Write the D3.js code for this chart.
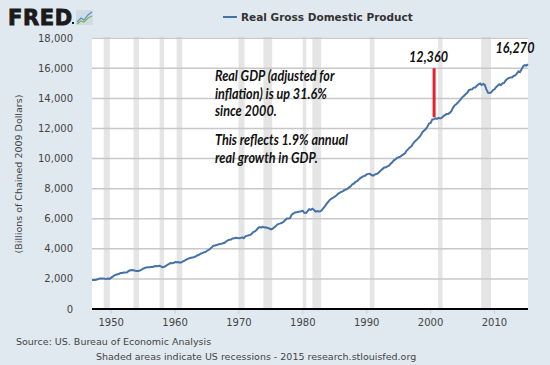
<!DOCTYPE html>
<html><head><meta charset="utf-8">
<script src="https://cdn.jsdelivr.net/npm/d3@7"></script>
<style>html,body{margin:0;padding:0;background:#e1e9f0;}svg{display:block;}</style>
</head><body>
<script>
// ---- Data ----
const startYear = 1947; // first quarter 1947Q1, quarterly observations
const gdp = [
1934.5,1932.3,1930.3,1960.7, 1989.5,2021.9,2033.2,2035.3, 2007.5,2000.8,2022.8,2004.7,
2084.6,2147.6,2230.4,2273.4, 2304.5,2344.5,2392.8,2398.1, 2423.5,2428.5,2446.1,2526.4,
2573.4,2593.5,2578.9,2539.8, 2528.0,2530.7,2559.4,2609.3, 2683.8,2727.5,2764.1,2780.8,
2770.0,2792.9,2790.6,2836.2, 2854.5,2848.2,2875.9,2846.4, 2772.7,2790.9,2855.5,2922.3,
2976.6,3049.0,3043.1,3055.1, 3123.2,3111.3,3119.1,3081.3, 3102.3,3159.9,3212.6,3277.7,
3336.8,3372.7,3404.8,3418.0, 3456.1,3501.1,3569.5,3595.0, 3672.7,3716.4,3766.9,3780.2,
3873.5,3926.4,4006.2,4100.6, 4201.9,4219.1,4249.2,4285.6, 4324.9,4328.7,4366.1,4401.2,
4490.6,4566.4,4599.3,4619.8, 4691.6,4706.7,4736.1,4715.5, 4707.1,4715.4,4757.2,4708.3,
4834.3,4861.9,4900.0,4914.3, 5002.4,5118.3,5165.4,5251.2, 5380.5,5441.5,5411.9,5462.4,
5417.0,5431.3,5378.7,5357.2, 5292.4,5333.2,5421.4,5494.4, 5618.5,5661.0,5689.8,5732.5,
5799.2,5913.0,6017.6,6018.2, 6039.2,6274.0,6335.3,6420.3, 6433.0,6440.8,6487.1,6503.9,
6524.9,6392.6,6382.9,6501.2, 6635.7,6587.3,6662.9,6585.1, 6475.0,6510.2,6486.8,6493.1,
6578.2,6728.3,6860.0,7001.5, 7140.6,7266.0,7337.5,7396.0, 7469.5,7537.9,7655.2,7712.6,
7784.1,7819.8,7898.6,7939.5, 7995.0,8084.7,8158.0,8292.7, 8339.3,8449.5,8498.3,8610.9,
8697.7,8766.1,8831.5,8850.2, 8947.1,8981.7,8983.9,8907.4, 8865.6,8934.4,8977.3,9016.4,
9123.0,9223.5,9313.2,9406.5, 9424.1,9480.1,9526.3,9653.5, 9748.2,9881.4,9939.7,10052.5,
10086.9,10122.1,10208.8,10281.2, 10348.7,10529.4,10626.8,10739.1, 10820.9,10984.2,11124.0,11210.3,
11321.2,11431.0,11580.6,11770.7, 11864.7,11962.5,12113.1,12323.3, 12359.1,12592.5,12607.7,12679.3,
12643.3,12710.3,12670.1,12705.3, 12822.3,12893.0,12955.8,12964.0, 13031.2,13152.1,13372.4,13528.7,
13606.5,13706.2,13830.8,13950.4, 14099.1,14172.7,14291.8,14373.4, 14546.1,14589.6,14602.6,14716.9,
14726.0,14838.7,14938.5,14991.8, 14889.5,14963.4,14891.6,14577.0, 14375.0,14355.6,14402.5,14541.9,
14604.8,14745.9,14845.5,14939.0, 14881.3,14989.6,15021.1,15190.3, 15291.0,15362.4,15380.8,15384.3,
15491.9,15521.6,15641.3,15793.9, 15757.6,15935.8,16139.5,16205.6, 16177.3,16270.4
];
// NBER recessions (start, end) as fractional years
const recessions = [
[1948.83,1949.79],[1953.50,1954.37],[1957.58,1958.29],[1960.25,1961.12],
[1969.92,1970.87],[1973.83,1975.21],[1980.00,1980.54],[1981.50,1982.87],
[1990.50,1991.21],[2001.17,2001.87],[2007.92,2009.46]
];
const yTicks = [0,2000,4000,6000,8000,10000,12000,14000,16000,18000];
const xTicks = [1950,1960,1970,1980,1990,2000,2010];
const seriesName = "Real Gross Domestic Product";
const yTitle = "(Billions of Chained 2009 Dollars)";
const sourceText = "Source: US. Bureau of Economic Analysis";
const noteText = "Shaded areas indicate US recessions - 2015 research.stlouisfed.org";
const annot1 = ["Real GDP (adjusted for","inflation) is up 31.6%","since 2000."];
const annot2 = ["This reflects 1.9% annual","real growth in GDP."];
const marker = {year:2000.55, from:12750, to:16000, label:"12,360"};
const endLabel = {year:2014.5, value:16270, label:"16,270"};

// ---- Chart ----
const W=550,H=365;
const svg=d3.select("body").append("svg").attr("width",W).attr("height",H);
svg.append("rect").attr("width",W).attr("height",H).attr("fill","#e1e9f0");

const lastYear = startYear + (gdp.length-1)/4;
const x=d3.scaleLinear().domain([startYear,lastYear]).range([92,528]);
const y=d3.scaleLinear().domain([0,18000]).range([309,38.2]);
const data=gdp.map((v,i)=>({t:startYear+i/4,v}));

svg.append("rect").attr("x",92).attr("y",37).attr("width",436).attr("height",272).attr("fill","#fff");

svg.append("g").selectAll("rect").data(recessions).join("rect")
  .attr("x",d=>x(d[0])).attr("width",d=>Math.max(1,x(d[1])-x(d[0])))
  .attr("y",37).attr("height",272).attr("fill","#e5e5e5");

svg.append("g").selectAll("line").data(yTicks.filter(d=>d>0)).join("line")
  .attr("x1",92).attr("x2",528).attr("y1",d=>y(d)).attr("y2",d=>y(d))
  .attr("stroke","#c8c8c8").attr("stroke-width",1.5);

svg.append("g").selectAll("text").data(yTicks).join("text")
  .attr("x",73).attr("y",d=>y(d)+3.5).attr("text-anchor","end")
  .attr("font-family","DejaVu Sans").attr("font-size",10).attr("fill","#444")
  .text(d=>d3.format(",")(d));

// x axis
const xg=svg.append("g").attr("transform","translate(0,309)");
xg.selectAll("line").data(xTicks).join("line")
  .attr("x1",d=>x(d)).attr("x2",d=>x(d)).attr("y1",0).attr("y2",5)
  .attr("stroke","#c0d0e0");
xg.selectAll("text").data(xTicks).join("text")
  .attr("x",d=>x(d)).attr("y",17).attr("text-anchor","middle")
  .attr("font-family","DejaVu Sans").attr("font-size",10).attr("fill","#444").text(d=>d);

svg.append("path").datum(data)
  .attr("d",d3.line().x(d=>x(d.t)).y(d=>y(d.v)))
  .attr("fill","none").attr("stroke","#4572a7").attr("stroke-width",2);

svg.append("line").attr("x1",92).attr("x2",528).attr("y1",y(0)).attr("y2",y(0))
  .attr("stroke","#000").attr("stroke-width",2);

// y title
svg.append("text").attr("transform",`translate(22,174) rotate(-90)`)
  .attr("text-anchor","middle").attr("font-family","DejaVu Sans").attr("font-size",9.5)
  .attr("fill","#444").text(yTitle);

// legend
svg.append("line").attr("x1",223).attr("x2",237).attr("y1",17).attr("y2",17)
  .attr("stroke","#4572a7").attr("stroke-width",2);
svg.append("text").attr("x",241).attr("y",21).attr("font-family","DejaVu Sans")
  .attr("font-weight","bold").attr("font-size",10.5).attr("fill","#333").text(seriesName);

// footer
svg.append("text").attr("x",16).attr("y",345).attr("font-family","DejaVu Sans")
  .attr("font-size",9.5).attr("fill","#444").text(sourceText);
svg.append("text").attr("x",96).attr("y",360).attr("font-family","DejaVu Sans")
  .attr("font-size",9.5).attr("fill","#444").text(noteText);

// annotations (narrow italic, horizontally condensed to mimic Calibri)
const sx=0.84;
const ag=svg.append("g").attr("transform",`scale(${sx},1)`)
  .attr("font-family","Lato").attr("font-style","italic")
  .attr("font-weight","bold").attr("font-size",15).attr("fill","#111");
ag.selectAll("text.a1").data(annot1).join("text").attr("class","a1")
  .attr("x",215/sx).attr("y",(d,i)=>81+i*17.7).text(d=>d);
ag.selectAll("text.a2").data(annot2).join("text").attr("class","a2")
  .attr("x",215/sx).attr("y",(d,i)=>145+i*17.7).text(d=>d);
svg.append("line").attr("x1",x(marker.year)).attr("x2",x(marker.year))
  .attr("y1",y(marker.from)).attr("y2",y(marker.to))
  .attr("stroke","#e8202a").attr("stroke-width",3);
ag.append("text").attr("x",428.5/sx).attr("y",62).attr("text-anchor","middle").text(marker.label);
ag.append("text").attr("x",515/sx).attr("y",53).attr("text-anchor","middle").text(endLabel.label);

// FRED logo
svg.append("text").attr("x",8).attr("y",25).attr("font-family","DejaVu Sans")
  .attr("font-weight","bold").attr("font-size",21).attr("letter-spacing",0.6)
  .attr("fill","#1a1a1a").attr("stroke","#1a1a1a").attr("stroke-width",0.9).text("FRED");
svg.append("rect").attr("x",72).attr("y",22).attr("width",2).attr("height",2).attr("fill","#1a1a1a");
const lg=svg.append("g").attr("transform","translate(76,10)");
lg.append("rect").attr("width",17).attr("height",15).attr("fill","#d0dbe4");
lg.append("path").attr("d","M1,12 L5,8 L8,10 L12,5 L16,2").attr("fill","none").attr("stroke","#5b8fc9").attr("stroke-width",1.2);
lg.append("path").attr("d","M1,14 L5,11 L8,12 L12,8 L16,6").attr("fill","none").attr("stroke","#7ab648").attr("stroke-width",1.2);
</script>
</body></html>
